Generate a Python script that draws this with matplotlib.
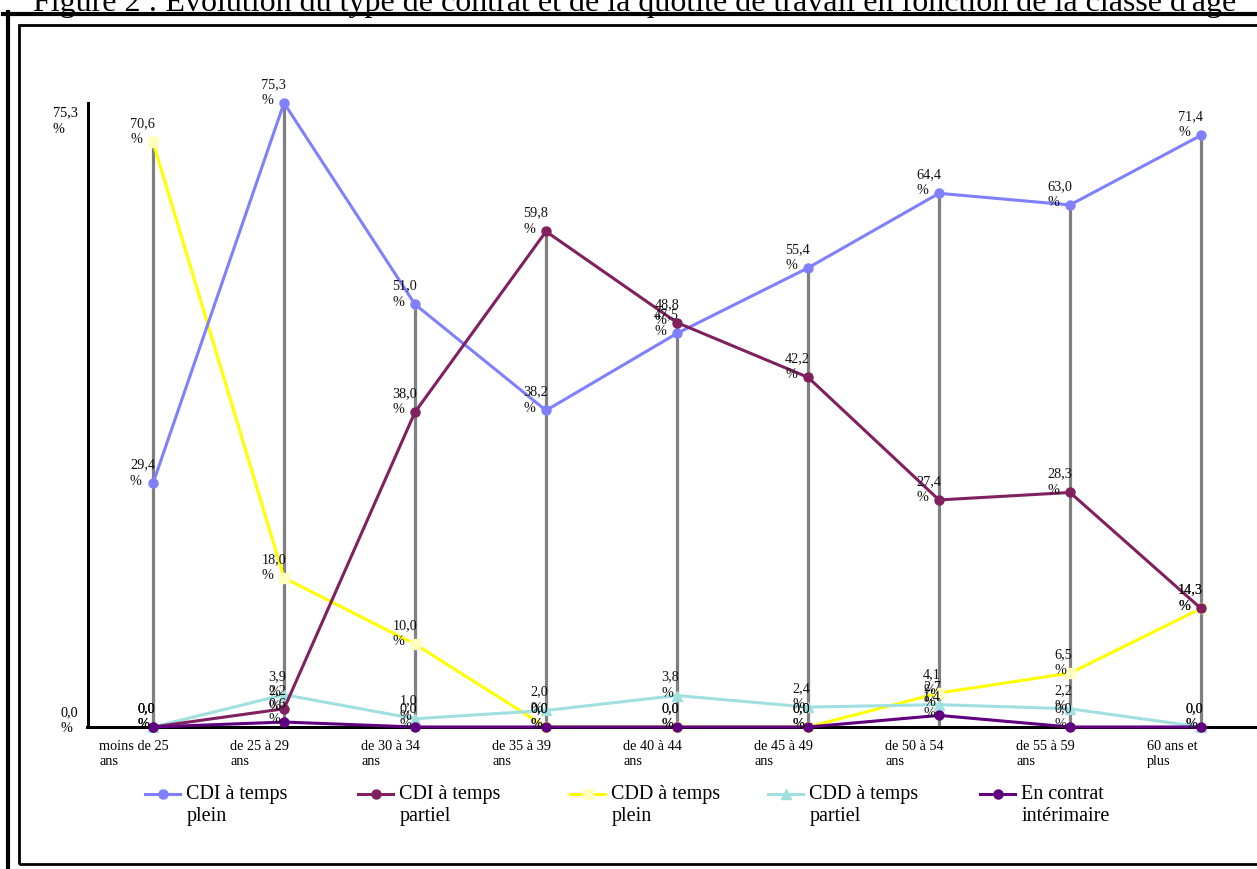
import matplotlib.pyplot as plt
import matplotlib.transforms as mtransforms
from matplotlib.lines import Line2D
from matplotlib.patches import Rectangle
from matplotlib.legend_handler import HandlerLine2D

plt.rcParams['font.family'] = ['Liberation Serif', 'DejaVu Serif']

# data
categories = ["moins de 25\nans", "de 25 à 29\nans", "de 30 à 34\nans",
              "de 35 à 39\nans", "de 40 à 44\nans", "de 45 à 49\nans",
              "de 50 à 54\nans", "de 55 à 59\nans", "60 ans et\nplus"]
cdi_plein = [29.4, 75.3, 51.0, 38.2, 47.5, 55.4, 64.4, 63.0, 71.4]
cdi_partiel = [0.0, 2.2, 38.0, 59.8, 48.8, 42.2, 27.4, 28.3, 14.3]
cdd_plein = [70.6, 18.0, 10.0, 0.0, 0.0, 0.0, 4.1, 6.5, 14.3]
cdd_partiel = [0.0, 3.9, 1.0, 2.0, 3.8, 2.4, 2.7, 2.2, 0.0]
interim = [0.0, 0.6, 0.0, 0.0, 0.0, 0.0, 1.4, 0.0, 0.0]
y_ticks = [0.0, 75.3]

series = [
    ("CDI à temps\nplein", cdi_plein, "#8080ff", "o", "#8080ff", 3),
    ("CDI à temps\npartiel", cdi_partiel, "#80205e", "o", "#80205e", 3),
    ("CDD à temps\nplein", cdd_plein, "#ffff00", "s", "#ffffc0", 2.5),
    ("CDD à temps\npartiel", cdd_partiel, "#a0e0e0", "^", "#a0e0e0", 2.8),
    ("En contrat\nintérimaire", interim, "#600080", "o", "#600080", 4),
]
legend_x_px = [145, 358, 570, 768, 980]


class TopLineHandler(HandlerLine2D):
    # put the legend key next to the first line of a two-line label
    def create_artists(self, legend, orig_handle, xdescent, ydescent,
                       width, height, fontsize, trans):
        artists = super().create_artists(legend, orig_handle, xdescent, ydescent,
                                         width, height, fontsize, trans)
        for a in artists:
            a.set_ydata([y + 0.55 * fontsize for y in a.get_ydata()])
        return artists


W, H = 1257, 869
fig = plt.figure(figsize=(W / 100, H / 100), dpi=100)

# axes: left at x=87px, 0 at y=727px, 75.3 at y=103px
ax = fig.add_axes([87.5 / W, (H - 727) / H, 1179 / W, 624 / H])
ax.set_xlim(-0.5, 8.5)
ax.set_ylim(0, 75.3)
x = list(range(len(categories)))

# high-low drop lines
highs = [max(vals) for vals in zip(cdi_plein, cdi_partiel, cdd_plein, cdd_partiel, interim)]
ax.vlines(x, 0, highs, colors="#808080", linewidth=2.3, zorder=1)

handles = []
for label, vals, color, marker, mfc, z in series:
    ln, = ax.plot(x, vals, color=color, linewidth=2.2, marker=marker,
                  markersize=6.5, markerfacecolor=mfc, markeredgecolor=mfc,
                  zorder=z, clip_on=False, label=label)
    handles.append(ln)
    for xi, v in zip(x, vals):
        txt = f"{v:.1f}".replace(".", ",") + "\n%"
        ax.annotate(txt, xy=(xi, v), xytext=(1.5, -3), textcoords="offset points",
                    ha="right", va="bottom", multialignment="left",
                    fontsize=10.3, linespacing=1.3, color="#111111", zorder=6,
                    annotation_clip=False)

# spines
for s in ["top", "right"]:
    ax.spines[s].set_visible(False)
ax.spines["left"].set_linewidth(2.2)
ax.spines["bottom"].set_linewidth(2.2)
ax.spines["left"].set_zorder(3.5)
ax.spines["bottom"].set_zorder(3.5)

ax.set_xticks(x)
ax.set_xticklabels(categories, ha="left", fontsize=10.3, linespacing=1.25)
ax.tick_params(axis="x", length=0, pad=9)
shift = mtransforms.ScaledTranslation(-0.54, 0, fig.dpi_scale_trans)
for t in ax.get_xticklabels():
    t.set_transform(t.get_transform() + shift)

ax.set_yticks([])
y_offsets = [4.5, -13]
for v, dy in zip(y_ticks, y_offsets):
    ax.annotate(f"{v:.1f}".replace(".", ",") + "\n%", xy=(0, v),
                xycoords=("axes fraction", "data"), xytext=(-7, dy),
                textcoords="offset points", ha="right", va="center",
                multialignment="left", fontsize=10.3, linespacing=1.3,
                annotation_clip=False)

for h, xp in zip(handles, legend_x_px):
    fig.legend([h], [h.get_label()], loc="upper left",
               bbox_to_anchor=(xp / W, 1 - 785 / H), frameon=False,
               fontsize=14.5, handlelength=1.75, handletextpad=0.3,
               borderpad=0, borderaxespad=0,
               handler_map={Line2D: TopLineHandler()})

# frame
fig.add_artist(Line2D([3 / W, 1], [1 - 13.5 / H, 1 - 13.5 / H],
                      transform=fig.transFigure, color="black", linewidth=3))
fig.add_artist(Line2D([7.5 / W, 7.5 / W], [0, 1 - 12 / H],
                      transform=fig.transFigure, color="black", linewidth=3))
fig.add_artist(Rectangle((18.5 / W, 1 - 864 / H), (1262 - 18.5) / W, (864 - 25) / H,
                         transform=fig.transFigure, fill=False,
                         edgecolor="black", linewidth=2))

fig.text(635 / W, 1 - 10.5 / H,
         "Figure 2 : Évolution du type de contrat et de la quotité de travail "
         "en fonction de la classe d'âge",
         ha="center", va="baseline", fontsize=23)

fig.savefig("out.png", dpi=100)
